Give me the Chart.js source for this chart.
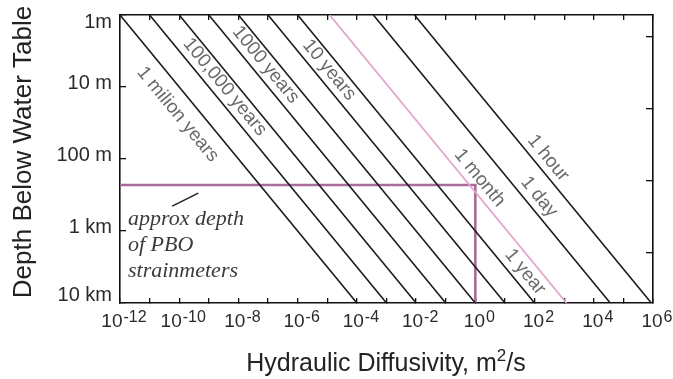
<!DOCTYPE html>
<html>
<head>
<meta charset="utf-8">
<script src="https://cdn.jsdelivr.net/npm/chart.js@4.4.1/dist/chart.umd.min.js"></script>
<style>
  html, body { margin: 0; padding: 0; background: #fff; }
  #wrap { width: 673px; height: 379px; position: relative; }
</style>
</head>
<body>
<div id="wrap"><canvas id="chart"></canvas></div>
<script>
// Diffusion-time lines: depth vs hydraulic diffusivity
const lineNames = ['1 milion years', '100,000 years', '10,000 years', '1000 years', '100 years',
  '10 years', '1 year', '1 month', '1 day', '1 hour'];
// diffusivity (m2/s) where each line crosses 1 m and 10 km depth
const diffAtTop = [1e-12, 1e-11, 1e-10, 1e-9, 1e-8, 1e-7, 1e-6, 1.2e-5, 3.6e-4, 8.8e-3];
const diffAtBottom = [1e-4, 1e-3, 1e-2, 1e-1, 1, 10, 100, 1.2e3, 3.6e4, 8.8e5];
const depthRange = [1, 10000];
// depth (m) the label of each line sits at, null = no label
const labelDepths = [24, 10, null, 4.9, null, 5.8, 3700, 183, 336, 97];

// approx PBO strainmeter depth
const pboDiff = [1e-12, 1, 1];
const pboDepth = [230, 230, 10000];
// short leader from the note to the PBO line
const leaderDiff = [5.8e-11, 4.4e-10];
const leaderDepth = [450, 297];

const xTickExps = [-12, -10, -8, -6, -4, -2, 0, 2, 4, 6];
const yTickValues = [1, 10, 100, 1000, 10000];
const yTickLabels = ['1m', '10 m', '100 m', '1 km', '10 km'];
const rightTickValues = [2, 20, 200, 2000];
const noteLines = ['approx depth', 'of PBO', 'strainmeters'];

const SANS = '"Liberation Sans", Arial, Helvetica, sans-serif';
const SERIF = '"Liberation Serif", "Times New Roman", serif';
const MONTH_COLOR = '#e2a6cb';
const PBO_COLOR = '#a96b99';

const decades = [];
for (let e = -12; e <= 6; e++) decades.push(Math.pow(10, e));

const datasets = lineNames.map((name, i) => ({
  label: name,
  data: [{ x: diffAtTop[i], y: depthRange[0] }, { x: diffAtBottom[i], y: depthRange[1] }],
  borderColor: name === '1 month' ? MONTH_COLOR : '#1c1c1c',
  borderWidth: name === '1 month' ? 1.8 : 1.6,
  pointRadius: 0,
  fill: false
}));

datasets.push({
  label: 'PBO depth',
  data: pboDiff.map((d, i) => ({ x: d, y: pboDepth[i] })),
  borderColor: PBO_COLOR,
  borderWidth: 2.6,
  pointRadius: 0,
  fill: false
});

datasets.push({
  label: 'leader',
  data: leaderDiff.map((d, i) => ({ x: d, y: leaderDepth[i] })),
  borderColor: '#1c1c1c',
  borderWidth: 1.4,
  pointRadius: 0,
  fill: false
});

// Draw labels, tick text and titles on top of the chart
const textPlugin = {
  id: 'textPlugin',
  afterDraw(chart) {
    const { ctx, chartArea } = chart;
    const x = chart.scales.x;
    const y = chart.scales.y;
    ctx.save();

    // y tick labels
    ctx.fillStyle = '#2a2a2a';
    ctx.font = '20px ' + SANS;
    ctx.textAlign = 'right';
    ctx.textBaseline = 'middle';
    yTickValues.forEach((v, i) => {
      const py = y.getPixelForValue(v);
      const ty = Math.min(Math.max(py - 4, chartArea.top + 7), chartArea.bottom - 8);
      ctx.fillText(yTickLabels[i], chartArea.left - 8, ty);
    });

    // x tick labels: 10 with superscript exponent
    ctx.textAlign = 'left';
    ctx.textBaseline = 'alphabetic';
    xTickExps.forEach(e => {
      const px = x.getPixelForValue(Math.pow(10, e));
      ctx.font = '19px ' + SANS;
      const wb = ctx.measureText('10').width;
      ctx.font = '16px ' + SANS;
      const sup = String(e);
      const ws = ctx.measureText(sup).width;
      const left = px + 4 - (wb + ws + 1) / 2;
      ctx.font = '19px ' + SANS;
      ctx.fillText('10', left, chartArea.bottom + 24);
      ctx.font = '16px ' + SANS;
      ctx.fillText(sup, left + wb + 1, chartArea.bottom + 19);
    });

    // x axis title
    ctx.fillStyle = '#222';
    const t1 = 'Hydraulic Diffusivity, m', t2 = '2', t3 = '/s';
    ctx.font = '25px ' + SANS;
    const w1 = ctx.measureText(t1).width, w3 = ctx.measureText(t3).width;
    ctx.font = '17px ' + SANS;
    const w2 = ctx.measureText(t2).width;
    let tx = 386 - (w1 + w2 + w3) / 2;
    ctx.font = '25px ' + SANS;
    ctx.fillText(t1, tx, 371);
    ctx.font = '17px ' + SANS;
    ctx.fillText(t2, tx + w1, 361);
    ctx.font = '25px ' + SANS;
    ctx.fillText(t3, tx + w1 + w2, 371);

    // y axis title
    ctx.save();
    ctx.translate(31, 152);
    ctx.rotate(-Math.PI / 2);
    ctx.textAlign = 'center';
    ctx.font = '26px ' + SANS;
    ctx.fillText('Depth Below Water Table', 0, 0);
    ctx.restore();

    // line labels, rotated along their lines
    ctx.font = '19px ' + SANS;
    ctx.fillStyle = '#6a6a6a';
    ctx.textAlign = 'center';
    ctx.textBaseline = 'middle';
    lineNames.forEach((name, i) => {
      if (labelDepths[i] === null) return;
      const x0 = x.getPixelForValue(diffAtTop[i]), y0 = y.getPixelForValue(depthRange[0]);
      const x1 = x.getPixelForValue(diffAtBottom[i]), y1 = y.getPixelForValue(depthRange[1]);
      const ly = y.getPixelForValue(labelDepths[i]);
      const lx = x0 + (x1 - x0) * (ly - y0) / (y1 - y0) + (i === 0 ? -24 : 16);
      ctx.save();
      ctx.translate(lx, ly);
      ctx.rotate(Math.atan2(y1 - y0, x1 - x0));
      ctx.fillText(name, 0, 0);
      ctx.restore();
    });

    // note on PBO strainmeters
    ctx.font = 'italic 22px ' + SERIF;
    ctx.fillStyle = '#3a3a3a';
    ctx.textAlign = 'left';
    ctx.textBaseline = 'alphabetic';
    noteLines.forEach((t, i) => {
      ctx.fillText(t, chartArea.left + 8, 225 + i * 26);
    });

    ctx.restore();
  }
};

const decadeTicks = scale => { scale.ticks = decades.map(v => ({ value: v })); };
const depthTicks = scale => { scale.ticks = yTickValues.map(v => ({ value: v })); };
const rightTicks = scale => { scale.ticks = rightTickValues.map(v => ({ value: v })); };
const border = { display: true, color: '#111', width: 1.6 };

new Chart(document.getElementById('chart'), {
  type: 'line',
  data: { datasets: datasets },
  options: {
    responsive: true,
    maintainAspectRatio: false,
    animation: false,
    layout: { padding: 0 },
    plugins: {
      legend: { display: false },
      tooltip: { enabled: false }
    },
    scales: {
      x: {
        type: 'logarithmic',
        position: 'bottom',
        min: 1e-12,
        max: 1e6,
        afterBuildTicks: decadeTicks,
        afterFit: s => { s.height = 76; },
        ticks: { display: false },
        grid: { drawOnChartArea: false, drawTicks: true, tickLength: -5, color: '#111', lineWidth: 1.3 },
        border: border
      },
      x2: {
        type: 'logarithmic',
        position: 'top',
        min: 1e-12,
        max: 1e6,
        afterBuildTicks: decadeTicks,
        afterFit: s => { s.height = 15; },
        ticks: { display: false },
        grid: { drawOnChartArea: false, drawTicks: true, tickLength: -5, color: '#111', lineWidth: 1.3 },
        border: border
      },
      y: {
        type: 'logarithmic',
        position: 'left',
        reverse: true,
        min: 1,
        max: 10000,
        afterBuildTicks: depthTicks,
        afterFit: s => { s.width = 120; },
        ticks: { display: false },
        grid: { drawOnChartArea: false, drawTicks: true, tickLength: -6, color: '#111', lineWidth: 1.3 },
        border: border
      },
      y2: {
        type: 'logarithmic',
        position: 'right',
        reverse: true,
        min: 1,
        max: 10000,
        afterBuildTicks: rightTicks,
        afterFit: s => { s.width = 20; },
        ticks: { display: false },
        grid: { drawOnChartArea: false, drawTicks: true, tickLength: -7, color: '#111', lineWidth: 1.3 },
        border: border
      }
    }
  },
  plugins: [textPlugin]
});
</script>
</body>
</html>
